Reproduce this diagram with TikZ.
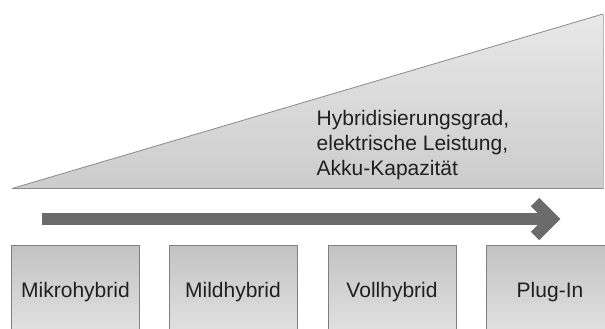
\documentclass[tikz,border=0pt]{standalone}
\usepackage{fontspec}
\setmainfont{Liberation Sans}
\definecolor{arrowgray}{HTML}{6B6B6B}
\definecolor{edgegray}{HTML}{8A8A8A}
\definecolor{boxedge}{HTML}{7F7F7F}
\definecolor{txt}{HTML}{202020}
\definecolor{tritop}{HTML}{E8E8E8}
\definecolor{tribot}{HTML}{CCCCCC}
\definecolor{boxtop}{HTML}{C3C3C3}
\definecolor{boxbot}{HTML}{E3E3E3}
\tikzset{
  lbl/.style={font=\fontsize{21}{24.7}\selectfont, text=txt},
  stage/.style={draw=boxedge, line width=0.8pt, top color=boxtop, bottom color=boxbot,
    minimum width=128pt, minimum height=93pt, anchor=north, inner sep=0pt,
    text height=15pt, text depth=4.5pt, lbl},
  bigarrow/.style={draw=arrowgray, line width=12pt}
}
\begin{document}
\begin{tikzpicture}[x=1pt,y=-1pt]
\useasboundingbox (0,0) rectangle (605,329);
\clip (0,0) rectangle (605,329);
% triangle
\path[top color=tritop, bottom color=tribot] (12,188.5) -- (603,14) -- (603,188.5) -- cycle;
\draw[edgegray, line width=0.8pt] (12,188.5) -- (603,14);
\draw[edgegray, line width=0.8pt] (12,188.5) -- (603,188.5);
\draw[edgegray!60, line width=0.6pt] (603,14) -- (603,188.5);
\node[lbl, align=left, anchor=base west, inner sep=0pt] (grad) at (316.5,175)
  {Hybridisierungsgrad,\\elektrische Leistung,\\Akku-Kapazität};
% arrow
\coordinate (as) at (41.7,219);
\coordinate (ae) at (552,219);
\coordinate (au) at (535,202);
\coordinate (ad) at (535,236);
\draw[bigarrow, line cap=butt] (as) -- (ae);
\draw[bigarrow, line cap=butt, miter limit=10, line join=miter] (au) -- (ae) -- (ad);
% stages
\node[stage] (s1) at (75.5,245) {Mikrohybrid};
\node[stage] (s2) at (233,245) {Mildhybrid};
\node[stage] (s3) at (392,245) {Vollhybrid};
\node[stage] (s4) at (550,245) {Plug-In};
\end{tikzpicture}
\end{document}
